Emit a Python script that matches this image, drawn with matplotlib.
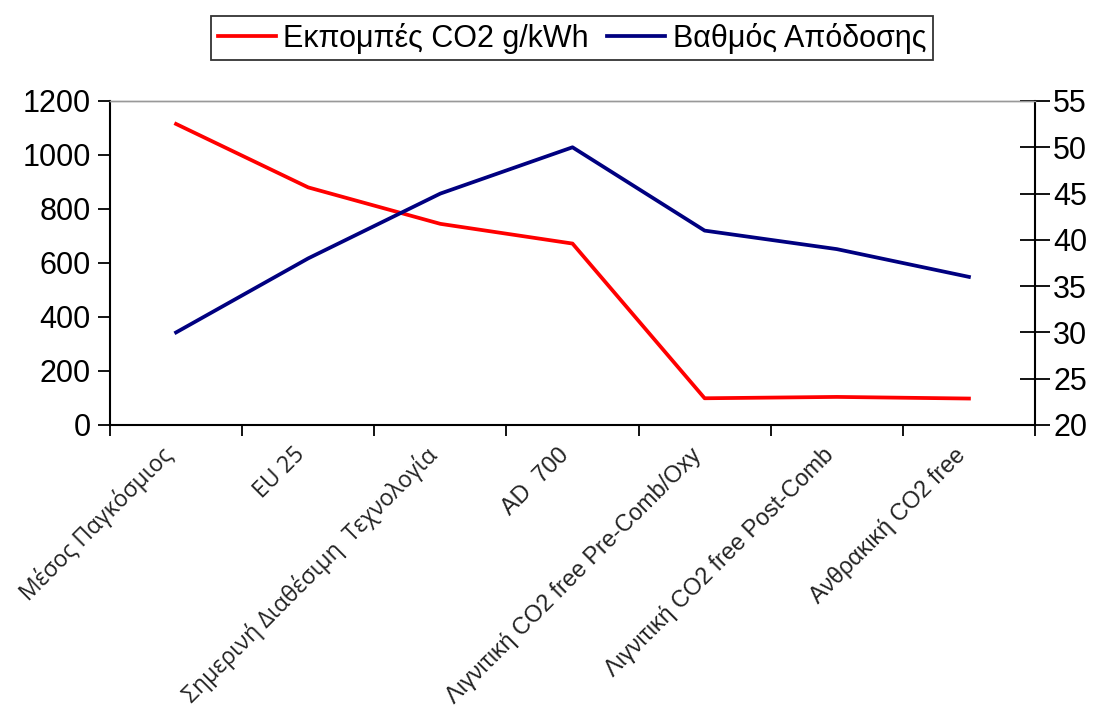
import matplotlib
matplotlib.use("Agg")
import matplotlib.pyplot as plt
from matplotlib.lines import Line2D

plt.rcParams['font.family'] = ['Liberation Sans', 'DejaVu Sans']

categories = [
    "Μέσος Παγκόσμιος",
    "EU 25",
    "Σημερινή Διαθέσιμη  Τεχνολογία",
    "AD  700",
    "Λιγνιτική CO2 free Pre-Comb/Oxy",
    "Λιγνιτική CO2 free Post-Comb",
    "Ανθρακική CO2 free",
]
co2_emissions = [1115, 880, 745, 672, 99, 104, 98]      # g/kWh, left axis
efficiency = [30, 38, 45, 50, 41, 39, 36]               # %, right axis

left_ticks = [0, 200, 400, 600, 800, 1000, 1200]
right_ticks = [20, 25, 30, 35, 40, 45, 50, 55]

red = "#FF0000"
navy = "#000080"

fig = plt.figure(figsize=(10.99, 7.09), dpi=100)
ax = fig.add_axes([110 / 1099, 1 - 425 / 709, 925 / 1099, 324 / 709])
ax2 = ax.twinx()

x = list(range(len(categories)))
ax.plot(x, co2_emissions, color=red, lw=2.7, solid_joinstyle='round', zorder=3)
ax2.plot(x, efficiency, color=navy, lw=2.7, solid_joinstyle='round', zorder=3)

ax.set_xlim(-0.5, len(categories) - 0.5)
ax.set_ylim(0, 1200)
ax2.set_ylim(20, 55)
ax.set_yticks(left_ticks)
ax2.set_yticks(right_ticks)

# category boundaries carry the tick marks
ax.set_xticks([i - 0.5 for i in range(len(categories) + 1)])
ax.set_xticklabels([])

ax.tick_params(axis='y', direction='out', length=9, width=1.3, labelsize=22, pad=5)
ax.tick_params(axis='x', direction='out', length=8, width=1.3)
ax2.tick_params(axis='y', direction='inout', length=22, width=1.3, labelsize=22, pad=2)

for a in (ax, ax2):
    for side in ('left', 'right', 'bottom'):
        a.spines[side].set_linewidth(1.5)
        a.spines[side].set_color('black')
    a.spines['top'].set_color('#999999')
    a.spines['top'].set_linewidth(1.0)
ax.spines['right'].set_visible(False)
ax2.spines['left'].set_visible(False)
ax2.spines['bottom'].set_visible(False)

# rotated category labels below the axis
for i, lab in enumerate(categories):
    if i < 3:
        fam, size = ['Open Sans', 'DejaVu Sans'], 16.5
    else:
        fam, size = ['Liberation Sans', 'DejaVu Sans'], 16.8
    ax.annotate(lab, xy=(i, 0), xycoords=('data', 'axes fraction'),
                xytext=(-5, -19), textcoords='offset points',
                rotation=45, rotation_mode='anchor', ha='right', va='center',
                fontsize=size, family=fam, color='#222222')

handles = [Line2D([], [], color=red, lw=2.7), Line2D([], [], color=navy, lw=2.7)]
leg = fig.legend(handles, ["Εκπομπές CO2 g/kWh", "Βαθμός Απόδοσης"],
                 loc='center', bbox_to_anchor=(572 / 1099, 1 - 38 / 709),
                 ncol=2, fontsize=22, frameon=True, fancybox=False,
                 handlelength=1.9, handletextpad=0.25, columnspacing=0.6,
                 borderpad=0.2, borderaxespad=0)
leg.get_frame().set_edgecolor('black')
leg.get_frame().set_linewidth(1.3)

fig.savefig("out.png", dpi=100)
